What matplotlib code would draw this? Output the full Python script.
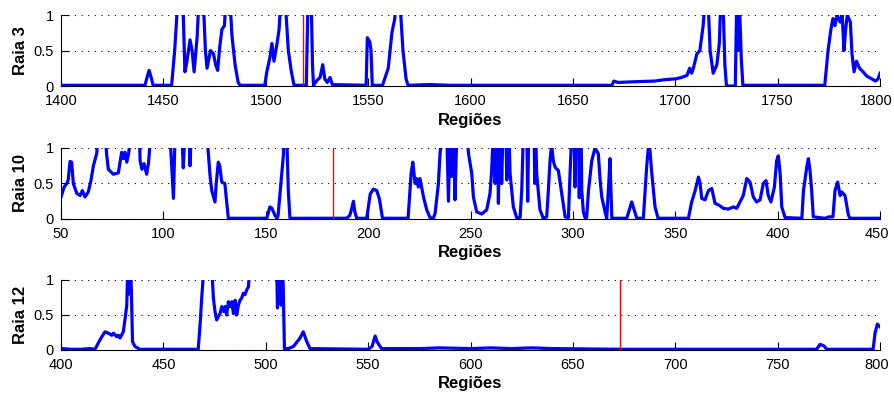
import numpy as np
import matplotlib
matplotlib.use('Agg')
import matplotlib.pyplot as plt
import matplotlib.transforms as mtransforms

plt.rcParams['font.family'] = ['Liberation Sans', 'DejaVu Sans']

# Raia 3: vertices of the profile (values above 1 are cut by the axis)
raia3_x = [1400, 1441, 1442, 1443, 1444, 1445, 1454, 1455.5, 1457, 1459.5, 1460.5, 1461.5,
           1463, 1464, 1465, 1466.5, 1467.3, 1469.5, 1470.5, 1471.3, 1472, 1473, 1474.5,
           1475.5, 1476.5, 1477.5, 1478.6, 1479.8, 1480.5, 1482.5, 1483.5, 1485, 1486.5,
           1487.5, 1499.5, 1500.5, 1502, 1503, 1504, 1505.5, 1506.5, 1507.3, 1509.5, 1511,
           1512.5, 1513.8, 1519.8, 1520.6, 1522.2, 1522.8, 1523.3, 1525, 1526.5, 1527.8,
           1528.8, 1530, 1531.4, 1532.5, 1549, 1549.6, 1550.8, 1551.4, 1552, 1557, 1559.8,
           1561.6, 1563, 1563.5, 1565.5, 1567, 1568.5, 1569.5, 1580, 1590, 1600, 1669,
           1670, 1672, 1680, 1690, 1695, 1700, 1703, 1705.7, 1707, 1708, 1709, 1710.5,
           1712, 1713.6, 1714.5, 1716, 1717, 1718.5, 1720.3, 1721.5, 1722.2, 1723.3,
           1724.2, 1725, 1729.3, 1730, 1730.7, 1731.3, 1732.2, 1733, 1773, 1774.6, 1776,
           1777, 1778, 1779, 1780.5, 1781.5, 1782.4, 1783.2, 1784, 1785.5, 1786.3, 1787.3,
           1788.5, 1790, 1791.7, 1793.5, 1796, 1797.8, 1799, 1800]
raia3_y = [0.01, 0.01, 0.12, 0.22, 0.12, 0.01, 0.01, 0.5, 1.2, 1.2, 0.2, 0.35,
           0.65, 0.5, 0.2, 0.7, 1.2, 1.2, 0.5, 0.25, 0.35, 0.5, 0.45,
           0.3, 0.22, 0.55, 0.8, 0.85, 1.2, 1.2, 0.7, 0.3, 0.05,
           0.01, 0.01, 0.2, 0.4, 0.6, 0.35, 0.6, 0.8, 1.2, 1.2, 0.5,
           0.2, 0.01, 0.01, 1.2, 1.2, 0.3, 0.01, 0.08, 0.12, 0.3,
           0.1, 0.05, 0.12, 0.02, 0.01, 0.68, 0.62, 0.5, 0.01, 0.01, 0.25,
           0.75, 0.95, 1.2, 1.2, 0.5, 0.1, 0.01, 0.02, 0.01, 0.01, 0.01,
           0.07, 0.05, 0.06, 0.07, 0.09, 0.1, 0.12, 0.15, 0.25, 0.18, 0.27, 0.45,
           0.5, 0.85, 1.2, 1.2, 0.5, 0.18, 0.3, 0.6, 1.2, 1.2,
           0.3, 0.0, 0.0, 1.2, 0.5, 1.2, 0.4, 0.01, 0.01, 0.5, 0.8,
           0.95, 0.85, 1.0, 0.9, 1.0, 0.5, 0.8, 1.0, 0.9, 0.45, 0.2,
           0.35, 0.25, 0.2, 0.14, 0.1, 0.07, 0.1, 0.18]

# Raia 10
raia10_x = [50, 51.5, 52.8, 53.5, 54.4, 55.2, 56, 57.7, 59.3, 60.4, 61.7, 63.3, 64.6, 65.8,
            67.4, 68.2, 71.5, 72.3, 73.1, 75.5, 78, 78.8, 79.6, 80.4, 81.2, 82.1, 83, 84.2,
            88.3, 88.6, 89.5, 90.5, 91, 91.8, 92.7, 93.8, 103.2, 104.9, 105.7, 109, 109.7,
            110.5, 112.5, 113, 113.6, 121.2, 122.8, 123.6, 125.2, 125.8, 126.8, 127.5, 128.5,
            130, 130.7, 131.4, 131.7, 150.5, 152, 153, 154.5, 155.5, 156, 157.4, 158.6, 159,
            160.2, 161, 161.8, 189.5, 191, 192, 192.8, 193.5, 194.4, 199.3, 201, 202.5,
            204.2, 205.5, 207, 219.5, 221, 221.8, 222.9, 223.7, 224.5, 225.3, 227, 228.6,
            230.2, 231.8, 232.7, 234.3, 235.1, 235.9, 238.4, 239.2, 240, 240.8, 241.4, 241.9,
            242.4, 243.3, 248.2, 249, 250.6, 251.4, 253, 255.5, 257.9, 259.5, 260.3, 261.1,
            261.6, 262, 262.6, 263.2, 263.6, 264.2, 264.8, 265.2, 265.8, 267.3, 267.7, 268.3,
            268.8, 269.3, 270.9, 272.5, 274.2, 275, 275.8, 277.5, 277.9, 278.4, 281, 281.4,
            281.8, 282.3, 283.9, 285.5, 287.2, 288, 288.8, 289.6, 290.4, 291.3, 292.9, 294.5,
            296.2, 297.8, 298.6, 299.4, 300.6, 301, 301.4, 302.7, 303.1, 303.6, 304, 304.3,
            305.1, 305.9, 306.7, 307.6, 309.2, 310.8, 312.4, 313.3, 314.1, 315.7, 316.5,
            317.5, 318.1, 319, 326.3, 328.7, 331.2, 334.4, 336, 336.8, 337.6, 338.4, 340.1,
            341.6, 356.4, 358, 359.7, 361.3, 362.1, 362.9, 364.5, 366.2, 367.8, 369.4, 371,
            373.5, 375.9, 378.4, 380, 381.6, 383.2, 384.9, 386.5, 388.1, 389.7, 391.4, 393,
            394.3, 395.4, 396.7, 398.4, 399.5, 400.3, 401.2, 402, 403.6, 411.8, 412.6, 414.2,
            415, 415.8, 416.6, 417.4, 423.1, 425, 427, 428, 429.3, 430.5, 431.3, 432.9,
            434.5, 435.3, 450]
raia10_y = [0.31, 0.45, 0.5, 0.55, 0.81, 0.8, 0.5, 0.36, 0.33, 0.4, 0.31, 0.38, 0.54, 0.75,
            0.92, 1.2, 1.2, 0.9, 0.7, 0.63, 0.65, 0.8, 0.94, 0.85, 0.94, 0.8, 0.92, 1.2,
            1.2, 0.82, 0.7, 0.78, 0.73, 0.63, 0.78, 1.2, 1.2, 0.29, 1.2, 1.2, 0.72,
            1.2, 1.2, 0.75, 1.2, 1.2, 0.6, 0.4, 0.24, 0.5, 0.8, 0.75, 0.52,
            0.5, 0.3, 0.1, 0.01, 0.01, 0.17, 0.15, 0.05, 0.01, 0.05, 0.5, 0.9, 1.2,
            1.2, 0.4, 0.01, 0.01, 0.05, 0.15, 0.25, 0.1, 0.01, 0.01, 0.35, 0.42,
            0.4, 0.28, 0.01, 0.01, 0.65, 0.8, 0.5, 0.57, 0.45, 0.57, 0.31, 0.13,
            0.02, 0.01, 0.08, 0.5, 0.92, 1.2, 1.2, 0.25, 1.2, 0.6, 1.2, 1.2,
            0.27, 1.2, 1.2, 0.92, 0.64, 0.31, 0.1, 0.07, 0.13, 0.36, 0.68, 1.2,
            1.2, 0.5, 1.2, 1.2, 0.22, 1.2, 1.2, 0.5, 1.2, 1.2, 0.55, 1.2,
            1.2, 0.64, 0.17, 0.02, 0.02, 0.4, 1.2, 1.2, 0.25, 1.2, 1.2, 0.5,
            1.2, 0.64, 0.13, 0.01, 0.03, 0.4, 0.82, 1.05, 0.82, 0.73, 0.68, 0.36,
            0.03, 0.02, 0.64, 1.2, 1.2, 0.45, 1.2, 1.2, 0.3, 1.2, 1.2, 0.4,
            0.1, 0.02, 0.02, 0.4, 0.82, 1.0, 0.92, 0.54, 0.31, 0.1, 0.01,
            0.5, 0.85, 0.01, 0.01, 0.24, 0.01, 0.01, 0.73, 1.0, 0.98, 0.68, 0.17,
            0.01, 0.01, 0.24, 0.4, 0.59, 0.5, 0.29, 0.27, 0.4, 0.43, 0.22, 0.2,
            0.15, 0.14, 0.17, 0.15, 0.24, 0.33, 0.57, 0.52, 0.31, 0.24, 0.27, 0.5,
            0.54, 0.33, 0.24, 0.45, 0.82, 0.89, 0.64, 0.17, 0.02, 0.01, 0.4, 0.73,
            0.85, 0.68, 0.4, 0.03, 0.01, 0.03, 0.03, 0.4, 0.52, 0.33, 0.38, 0.33,
            0.06, 0.01, 0.01]

# Raia 12
raia12_x = [400, 405, 410, 414, 416.6, 418.2, 419.9, 421.5, 423.1, 424.8, 425.6, 427.2, 428,
            428.8, 430.4, 431.3, 432.1, 432.6, 433.2, 433.6, 434, 434.4, 434.9, 436.1, 438.5,
            467, 467.9, 468.7, 469.8, 473.6, 474.4, 475.2, 476, 477.6, 478.5, 479.3, 480.1,
            480.9, 481.7, 482.6, 483.4, 484.2, 485, 485.8, 486.6, 487.4, 488.2, 489, 489.8,
            490.7, 491.5, 492.3, 505.3, 505.7, 506.2, 507, 507.5, 507.9, 508.5, 509.1, 511,
            513.5, 516.7, 518.3, 520, 521.6, 550, 551.9, 553.4, 554.3, 556.5, 575, 585, 600,
            610, 620, 630, 640, 673, 700, 769, 770.7, 772.5, 774, 796.6, 797.6, 798.7, 800]
raia12_y = [0.02, 0.01, 0.01, 0.02, 0.01, 0.1, 0.19, 0.26, 0.24, 0.21, 0.24, 0.19, 0.21,
            0.17, 0.26, 0.45, 0.64, 1.2, 0.8, 1.2, 1.2, 0.79, 0.12, 0.05, 0.01,
            0.01, 0.36, 0.74, 1.2, 1.2, 0.74, 0.55, 0.43, 0.52, 0.62, 0.55, 0.62,
            0.5, 0.69, 0.62, 0.69, 0.52, 0.71, 0.5, 0.64, 0.71, 0.74, 0.81, 0.79,
            0.86, 0.9, 1.2, 1.2, 0.6, 1.2, 1.2, 0.64, 1.2, 0.93, 0.02, 0.02,
            0.05, 0.17, 0.26, 0.12, 0.02, 0.01, 0.05, 0.2, 0.12, 0.02, 0.02, 0.03, 0.02,
            0.03, 0.02, 0.03, 0.02, 0.01, 0.01, 0.01, 0.08, 0.06, 0.01, 0.01, 0.25, 0.37, 0.33]

# red marker position and x range of each lane
marks = [1518, 182.7, 673]
xranges = [(1400, 1800), (50, 450), (400, 800)]
ylabels = ['Raia 3', 'Raia 10', 'Raia 12']
series = [(raia3_x, raia3_y), (raia10_x, raia10_y), (raia12_x, raia12_y)]

fig = plt.figure(figsize=(8.95, 3.94), dpi=100)
boxes = [[0.0682, 0.7817, 0.9151, 0.1802],
         [0.0682, 0.4442, 0.9151, 0.1802],
         [0.0682, 0.1117, 0.9151, 0.1777]]

# small leftward nudge so the last tick label stays inside the figure
nudge = mtransforms.ScaledTranslation(-2.5 / 72, 0, fig.dpi_scale_trans)

for box, (xs, ys), mark, (x0, x1), lab in zip(boxes, series, marks, xranges, ylabels):
    ax = fig.add_axes(box)
    ax.plot(xs, ys, color='#0000ff', lw=2.3, zorder=3)
    ax.axvline(mark, color='#ff0000', lw=1.0, zorder=4)

    ax.set_xlim(x0, x1)
    ax.set_ylim(0, 1)
    ax.set_xticks(np.arange(x0, x1 + 1, 50))
    ax.set_yticks([0, 0.5, 1])
    ax.set_yticklabels(['0', '0.5', '1'])

    # dotted horizontal grid only
    ax.yaxis.grid(True, color='k', linestyle=(0, (1, 5)), lw=0.8)
    ax.xaxis.grid(False)

    ax.spines['top'].set_visible(False)
    ax.spines['right'].set_visible(False)
    ax.spines['left'].set_linewidth(0.8)
    ax.spines['bottom'].set_linewidth(0.8)
    ax.tick_params(direction='in', length=5.5, width=0.8, labelsize=10.5, pad=5)
    ax.tick_params(axis='x', pad=6)

    last = ax.get_xticklabels()[-1]
    last.set_transform(last.get_transform() + nudge)

    ax.set_xlabel('Regiões', fontsize=12, fontweight='bold', labelpad=3)
    ax.set_ylabel(lab, fontsize=12, fontweight='bold')
    ax.yaxis.set_label_coords(-0.040, 0.5)

fig.savefig('out.png', dpi=100)
